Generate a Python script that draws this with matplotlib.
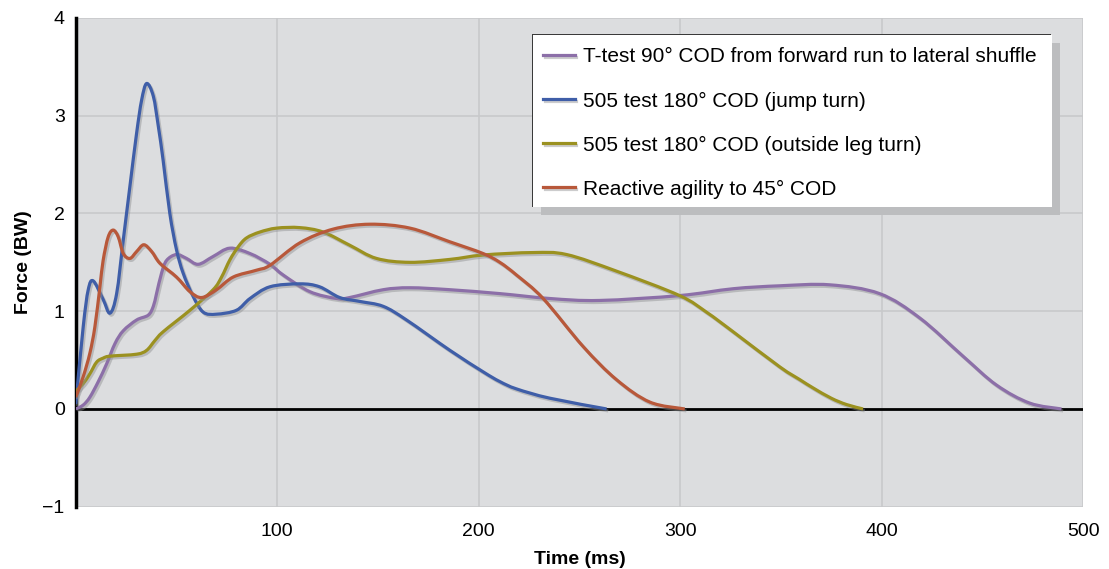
import matplotlib
matplotlib.use("Agg")
import matplotlib.pyplot as plt
import matplotlib.patheffects as pe
from matplotlib.patches import Rectangle, PathPatch
from matplotlib.path import Path
from matplotlib.lines import Line2D

plt.rcParams['font.family'] = ['Liberation Sans', 'DejaVu Sans']

# Ground reaction force traces (time in ms, force in body weights)
ttest_t = [0, 3.7, 7, 11.2, 15.3, 19.5, 23.6, 30.2, 36, 38.5, 40.1, 42.6, 45.1, 50, 55, 60.8,
           68.2, 76.5, 86.5, 96.4, 103, 116.2, 129.5, 136, 152.6, 165.9, 185.7, 210.5, 235.3,
           260, 299.7, 326.3, 349.5, 374.3, 399, 419, 440.4, 457, 473.5, 489.3]
ttest_f = [0, 0.04, 0.12, 0.28, 0.46, 0.67, 0.80, 0.91, 0.96, 1.05, 1.18, 1.39, 1.52, 1.58, 1.54, 1.48,
           1.56, 1.645, 1.59, 1.48, 1.37, 1.20, 1.13, 1.14, 1.22, 1.24, 1.22, 1.18, 1.13,
           1.11, 1.16, 1.23, 1.26, 1.27, 1.18, 0.93, 0.54, 0.245, 0.06, 0.0]

jump_t = [0, 3.7, 6.2, 8.7, 13.6, 17, 20.3, 23.6, 26.9, 30.2, 32.7, 35.2, 38.5, 41, 43.4, 46.7,
          50, 53.3, 58.3, 63.3, 69.9, 79.8, 86.5, 96.4, 111.3, 121, 131, 141, 152.6, 164.2,
          185.7, 202.2, 210.5, 218.8, 235.3, 263.5]
jump_f = [0.05, 0.84, 1.22, 1.31, 1.12, 0.98, 1.18, 1.73, 2.28, 2.82, 3.16, 3.33, 3.20, 2.89, 2.54, 2.0,
          1.63, 1.39, 1.15, 0.99, 0.97, 1.01, 1.13, 1.25, 1.28, 1.25, 1.14, 1.10, 1.05, 0.91,
          0.60, 0.38, 0.28, 0.205, 0.11, 0.0]

outside_t = [0, 3.7, 7, 10.4, 13.6, 17, 30.2, 35.2, 39.3, 43.4, 56.7, 68.2, 72.4, 76.5, 80.7, 84.8,
             91.4, 99.7, 111.3, 122.8, 136, 149.3, 165.9, 185.7, 202.2, 227, 243.6, 268.4, 299.7,
             313.1, 326.3, 349.5, 359.4, 366, 375, 382.6, 390.8]
outside_f = [0.18, 0.26, 0.36, 0.48, 0.52, 0.54, 0.56, 0.60, 0.70, 0.79, 1.01, 1.22, 1.35, 1.525, 1.66, 1.75,
             1.81, 1.85, 1.855, 1.81, 1.675, 1.54, 1.50, 1.53, 1.575, 1.60, 1.58, 1.41, 1.16,
             0.99, 0.79, 0.43, 0.30, 0.215, 0.11, 0.045, 0.0]

reactive_t = [0, 3.7, 7, 9.5, 12, 13.6, 16.1, 18.6, 21.1, 23.6, 26.9, 30.2, 33.8, 37.7, 41.8, 50,
              56.7, 62.5, 69.9, 78.2, 89.8, 96.4, 111.3, 127.8, 146, 165.9, 185.7, 202.2, 210.5,
              218.8, 232, 251.8, 268.4, 285, 302.3]
reactive_f = [0.12, 0.33, 0.57, 0.84, 1.25, 1.52, 1.76, 1.83, 1.76, 1.59, 1.54, 1.61, 1.68, 1.61, 1.49, 1.35,
              1.20, 1.14, 1.22, 1.35, 1.42, 1.47, 1.70, 1.84, 1.89, 1.85, 1.71, 1.59, 1.50,
              1.37, 1.13, 0.64, 0.30, 0.07, 0.0]

labels = ["T-test 90° COD from forward run to lateral shuffle",
          "505 test 180° COD (jump turn)",
          "505 test 180° COD (outside leg turn)",
          "Reactive agility to 45° COD"]
colors = ["#8c6fa8", "#3f5ea8", "#9b9120", "#b8583a"]
series = [(ttest_t, ttest_f), (jump_t, jump_f), (outside_t, outside_f), (reactive_t, reactive_f)]


def smooth_path(xs, ys):
    """Smoothed line through the samples (Catmull-Rom segments as cubic Beziers)."""
    pts = list(zip(xs, ys))
    ext = [pts[0]] + pts + [pts[-1]]
    verts = [pts[0]]
    codes = [Path.MOVETO]
    for i in range(1, len(ext) - 2):
        p0, p1, p2, p3 = ext[i - 1], ext[i], ext[i + 1], ext[i + 2]
        c1 = (p1[0] + (p2[0] - p0[0]) / 6, p1[1] + (p2[1] - p0[1]) / 6)
        c2 = (p2[0] - (p3[0] - p1[0]) / 6, p2[1] - (p3[1] - p1[1]) / 6)
        verts += [c1, c2, p2]
        codes += [Path.CURVE4] * 3
    return Path(verts, codes)


fig = plt.figure(figsize=(11.09, 5.69), dpi=100)
ax = fig.add_axes([0.0683, 0.1095, 0.9083, 0.8589])
ax.set_facecolor("#dcdddf")

shadow = [pe.SimpleLineShadow(offset=(1.2, -1.4), shadow_color="#8e8f91", alpha=0.45),
          pe.Normal()]
handles = []
for (t, f), c, lab in zip(series, colors, labels):
    patch = PathPatch(smooth_path(t, f), facecolor="none", edgecolor=c, lw=2.3,
                      capstyle="butt", joinstyle="round", path_effects=shadow, zorder=3)
    ax.add_patch(patch)
    handles.append(Line2D([], [], color=c, lw=2.3, path_effects=shadow, label=lab))

ax.set_xlim(0, 500)
ax.set_ylim(-1, 4)
ax.set_xticks([100, 200, 300, 400, 500])
ax.set_yticks([-1, 0, 1, 2, 3, 4])
ax.tick_params(axis="both", length=0, labelsize=14)
ax.tick_params(axis="x", pad=12)
ax.tick_params(axis="y", pad=8)
ax.grid(True, color="#c8c9cb", lw=1.2, zorder=0)
ax.set_axisbelow(True)
ax.axhline(0, color="black", lw=2, zorder=2)

for s in ["top", "right", "bottom"]:
    ax.spines[s].set_visible(False)
ax.spines["left"].set_linewidth(2.5)
ax.spines["left"].set_color("black")

ax.set_xlabel("Time (ms)", fontsize=14, fontweight="bold", labelpad=7.5)
ax.set_ylabel("Force (BW)", fontsize=14, fontweight="bold", labelpad=7.5)

# Legend box with a drop shadow
bx0, by0, bw, bh = 0.454, 0.613, 0.515, 0.352
dx = 8 / 1007.2
dy = 7.5 / 488.7
ax.add_patch(Rectangle((bx0 + dx, by0 - dy), bw, bh, transform=ax.transAxes,
                       facecolor="#bcbdbf", edgecolor="none", zorder=5))
ax.add_patch(Rectangle((bx0 - 1.2 / 1007.2, by0), bw, bh + 1.2 / 488.7, transform=ax.transAxes,
                       facecolor="#3a3a3a", edgecolor="none", zorder=5.1))
ax.add_patch(Rectangle((bx0, by0), bw, bh, transform=ax.transAxes,
                       facecolor="white", edgecolor="none", zorder=5.2))
leg = ax.legend(handles=handles, loc="center left",
                bbox_to_anchor=(bx0 + 0.002, by0 + bh / 2 - 0.004),
                frameon=False, fontsize=15, handlelength=1.5, handletextpad=0.4,
                labelspacing=1.2, borderaxespad=0)
leg.set_zorder(6)

fig.savefig("out.png", dpi=100)
